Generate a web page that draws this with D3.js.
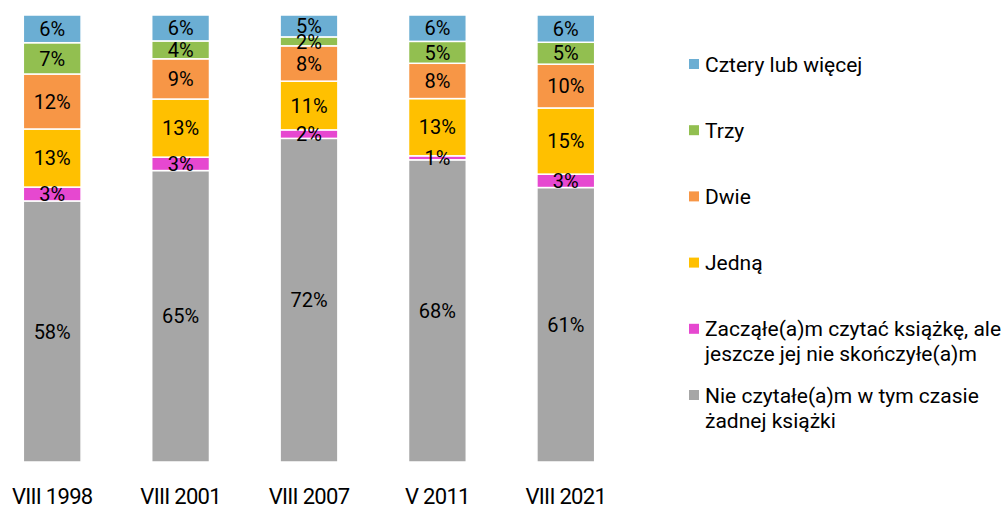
<!DOCTYPE html>
<html>
<head>
<meta charset="utf-8">
<script src="https://cdn.jsdelivr.net/npm/d3@7"></script>
<style>
  body { margin: 0; background: #fff; }
  text { font-family: Roboto, "Noto Sans", sans-serif; fill: #000; }
</style>
</head>
<body>
<div id="chart"></div>
<script>
const categories = ["VIII 1998", "VIII 2001", "VIII 2007", "V 2011", "VIII 2021"];

// series, bottom to top
const seriesKeys = ["zadnej", "zaczete", "jedna", "dwie", "trzy", "cztery"];
const zadnej  = [58.4, 65.2, 72.4, 67.6, 61.4];
const zaczete = [3.1, 3.0, 1.9, 0.9, 3.0];
const jedna   = [13.0, 13.0, 10.9, 12.8, 14.8];
const dwie    = [12.3, 9.0, 7.9, 7.9, 9.8];
const trzy    = [7.0, 4.0, 2.0, 4.9, 4.9];
const cztery  = [6.2, 5.8, 4.9, 5.9, 6.1];

// legend, top to bottom
const legendKeys = ["cztery", "trzy", "dwie", "jedna", "zaczete", "zadnej"];
const legendLabels = [
  ["Cztery lub więcej"],
  ["Trzy"],
  ["Dwie"],
  ["Jedną"],
  ["Zacząłe(a)m czytać książkę, ale", "jeszcze jej nie skończyłe(a)m"],
  ["Nie czytałe(a)m w tym czasie", "żadnej książki"]
];

const colors = {
  cztery: "#6baed3",
  trzy: "#92bf50",
  dwie: "#f79646",
  jedna: "#ffc000",
  zaczete: "#e648d0",
  zadnej: "#a6a6a6"
};

const width = 1008, height = 507;
const seriesData = { zadnej, zaczete, jedna, dwie, trzy, cztery };
const rows = categories.map((c, i) => {
  const r = { cat: c };
  seriesKeys.forEach(k => r[k] = seriesData[k][i]);
  return r;
});

const svg = d3.select("#chart")
  .append("svg")
  .attr("width", width)
  .attr("height", height);

const x = d3.scaleBand()
  .domain(categories)
  .range([-12, 630])
  .paddingInner(0.55)
  .paddingOuter(0.275);

const y = d3.scaleLinear()
  .domain([0, 100])
  .range([462, 15]);

const stacked = d3.stack().keys(seriesKeys)(rows);

// bars
svg.append("g")
  .selectAll("g")
  .data(stacked)
  .enter()
  .append("g")
  .attr("fill", d => colors[d.key])
  .selectAll("rect")
  .data(d => d)
  .enter()
  .append("rect")
  .attr("x", d => x(d.data.cat))
  .attr("y", d => y(d[1]))
  .attr("width", x.bandwidth())
  .attr("height", d => y(d[0]) - y(d[1]))
  .attr("stroke", "#fff")
  .attr("stroke-width", 1.5);

// labels on top of all bars
svg.append("g")
  .selectAll("g")
  .data(stacked)
  .enter()
  .append("g")
  .selectAll("text")
  .data(d => d)
  .enter()
  .append("text")
  .attr("x", d => x(d.data.cat) + x.bandwidth() / 2)
  .attr("y", d => (y(d[0]) + y(d[1])) / 2)
  .attr("dy", "0.36em")
  .attr("text-anchor", "middle")
  .style("font-size", "20px")
  .text(d => Math.round(d[1] - d[0]) + "%");

// x axis labels
svg.append("g")
  .attr("transform", "translate(0,462)")
  .call(d3.axisBottom(x).tickSize(0).tickPadding(0))
  .call(g => g.select(".domain").remove())
  .call(g => g.selectAll("text")
    .attr("y", 42)
    .attr("dy", 0)
    .style("font-size", "22px")
    .style("letter-spacing", "-0.7px")
    .style("font-family", "Roboto, sans-serif")
    .attr("fill", "#000"));

// legend
const ly = d3.scalePoint()
  .domain(legendKeys)
  .range([64, 395]);

const legend = svg.selectAll("g.legend")
  .data(legendKeys)
  .enter()
  .append("g")
  .attr("class", "legend")
  .attr("transform", d => `translate(689, ${ly(d)})`);

legend.append("rect")
  .attr("x", 0)
  .attr("y", -5)
  .attr("width", 10)
  .attr("height", 10)
  .attr("fill", d => colors[d]);

legend.append("text")
  .attr("x", 16)
  .style("font-size", "21px")
  .selectAll("tspan")
  .data((d, i) => legendLabels[i])
  .enter()
  .append("tspan")
  .attr("x", 16)
  .attr("y", (d, i) => i * 25)
  .attr("dy", "0.36em")
  .text(d => d);
</script>
</body>
</html>
